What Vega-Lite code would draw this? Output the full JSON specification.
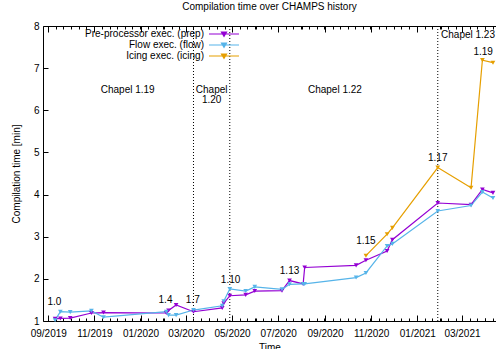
{
  "$schema": "https://vega.github.io/schema/vega-lite/v6.json",
  "width": 453,
  "height": 295,
  "autosize": "none",
  "padding": {"left": 43, "top": 26, "right": 0, "bottom": 28},
  "title": {"text": "Compilation time over CHAMPS history", "fontSize": 10, "fontWeight": "normal", "font": "Liberation Sans", "color": "black", "offset": 9, "anchor": "middle"},
  "config": {
    "font": "Liberation Sans",
    "view": {"stroke": "black", "strokeWidth": 1},
    "axis": {"grid": false, "domain": false, "ticks": true, "tickOpacity": 1, "tickColor": "black", "labelColor": "black", "labelFontSize": 10, "titleFontSize": 10, "titleFontWeight": "normal", "titleColor": "black", "labelFont": "Liberation Sans", "titleFont": "Liberation Sans", "tickWidth": 1}
  },
  "datasets": {
    "times": [
      {"date": "2019-09-10", "series": "Pre-processor exec. (prep)", "minutes": 1.05},
      {"date": "2019-09-17", "series": "Pre-processor exec. (prep)", "minutes": 1.06},
      {"date": "2019-09-30", "series": "Pre-processor exec. (prep)", "minutes": 1.07},
      {"date": "2019-10-28", "series": "Pre-processor exec. (prep)", "minutes": 1.19},
      {"date": "2019-11-13", "series": "Pre-processor exec. (prep)", "minutes": 1.20},
      {"date": "2020-02-04", "series": "Pre-processor exec. (prep)", "minutes": 1.19},
      {"date": "2020-02-07", "series": "Pre-processor exec. (prep)", "minutes": 1.25},
      {"date": "2020-02-17", "series": "Pre-processor exec. (prep)", "minutes": 1.38},
      {"date": "2020-03-11", "series": "Pre-processor exec. (prep)", "minutes": 1.22},
      {"date": "2020-04-18", "series": "Pre-processor exec. (prep)", "minutes": 1.31},
      {"date": "2020-04-20", "series": "Pre-processor exec. (prep)", "minutes": 1.42},
      {"date": "2020-04-28", "series": "Pre-processor exec. (prep)", "minutes": 1.60},
      {"date": "2020-05-19", "series": "Pre-processor exec. (prep)", "minutes": 1.62},
      {"date": "2020-05-31", "series": "Pre-processor exec. (prep)", "minutes": 1.71},
      {"date": "2020-07-06", "series": "Pre-processor exec. (prep)", "minutes": 1.72},
      {"date": "2020-07-16", "series": "Pre-processor exec. (prep)", "minutes": 1.96},
      {"date": "2020-08-03", "series": "Pre-processor exec. (prep)", "minutes": 1.88},
      {"date": "2020-08-05", "series": "Pre-processor exec. (prep)", "minutes": 2.27},
      {"date": "2020-10-12", "series": "Pre-processor exec. (prep)", "minutes": 2.32},
      {"date": "2020-10-25", "series": "Pre-processor exec. (prep)", "minutes": 2.44},
      {"date": "2020-11-22", "series": "Pre-processor exec. (prep)", "minutes": 2.66},
      {"date": "2020-11-29", "series": "Pre-processor exec. (prep)", "minutes": 2.93},
      {"date": "2021-01-28", "series": "Pre-processor exec. (prep)", "minutes": 3.80},
      {"date": "2021-03-13", "series": "Pre-processor exec. (prep)", "minutes": 3.76},
      {"date": "2021-03-28", "series": "Pre-processor exec. (prep)", "minutes": 4.12},
      {"date": "2021-04-11", "series": "Pre-processor exec. (prep)", "minutes": 4.04},
      {"date": "2019-09-10", "series": "Flow exec. (flow)", "minutes": 1.02},
      {"date": "2019-09-17", "series": "Flow exec. (flow)", "minutes": 1.22},
      {"date": "2019-09-30", "series": "Flow exec. (flow)", "minutes": 1.21},
      {"date": "2019-10-28", "series": "Flow exec. (flow)", "minutes": 1.24},
      {"date": "2019-11-13", "series": "Flow exec. (flow)", "minutes": 1.09},
      {"date": "2020-02-04", "series": "Flow exec. (flow)", "minutes": 1.22},
      {"date": "2020-02-07", "series": "Flow exec. (flow)", "minutes": 1.14},
      {"date": "2020-02-17", "series": "Flow exec. (flow)", "minutes": 1.14},
      {"date": "2020-03-11", "series": "Flow exec. (flow)", "minutes": 1.26},
      {"date": "2020-04-18", "series": "Flow exec. (flow)", "minutes": 1.36},
      {"date": "2020-04-20", "series": "Flow exec. (flow)", "minutes": 1.47},
      {"date": "2020-04-28", "series": "Flow exec. (flow)", "minutes": 1.76},
      {"date": "2020-05-19", "series": "Flow exec. (flow)", "minutes": 1.71},
      {"date": "2020-05-31", "series": "Flow exec. (flow)", "minutes": 1.81},
      {"date": "2020-07-06", "series": "Flow exec. (flow)", "minutes": 1.75},
      {"date": "2020-07-16", "series": "Flow exec. (flow)", "minutes": 1.87},
      {"date": "2020-08-03", "series": "Flow exec. (flow)", "minutes": 1.88},
      {"date": "2020-08-05", "series": "Flow exec. (flow)", "minutes": 1.88},
      {"date": "2020-10-12", "series": "Flow exec. (flow)", "minutes": 2.03},
      {"date": "2020-10-25", "series": "Flow exec. (flow)", "minutes": 2.14},
      {"date": "2020-11-22", "series": "Flow exec. (flow)", "minutes": 2.78},
      {"date": "2020-11-29", "series": "Flow exec. (flow)", "minutes": 2.83},
      {"date": "2021-01-28", "series": "Flow exec. (flow)", "minutes": 3.61},
      {"date": "2021-03-13", "series": "Flow exec. (flow)", "minutes": 3.74},
      {"date": "2021-03-28", "series": "Flow exec. (flow)", "minutes": 4.06},
      {"date": "2021-04-11", "series": "Flow exec. (flow)", "minutes": 3.92},
      {"date": "2020-10-25", "series": "Icing exec. (icing)", "minutes": 2.55},
      {"date": "2020-11-22", "series": "Icing exec. (icing)", "minutes": 3.06},
      {"date": "2020-11-29", "series": "Icing exec. (icing)", "minutes": 3.21},
      {"date": "2021-01-28", "series": "Icing exec. (icing)", "minutes": 4.64},
      {"date": "2021-03-13", "series": "Icing exec. (icing)", "minutes": 4.16},
      {"date": "2021-03-28", "series": "Icing exec. (icing)", "minutes": 7.19},
      {"date": "2021-04-11", "series": "Icing exec. (icing)", "minutes": 7.13}
    ],
    "releases": [
      {"date": "2020-03-11"},
      {"date": "2020-04-28"},
      {"date": "2021-01-28"}
    ],
    "versions": [
      {"date": "2019-09-09", "minutes": 1.45, "label": "1.0"},
      {"date": "2020-02-03", "minutes": 1.49, "label": "1.4"},
      {"date": "2020-03-10", "minutes": 1.49, "label": "1.7"},
      {"date": "2020-04-29", "minutes": 1.98, "label": "1.10"},
      {"date": "2020-07-16", "minutes": 2.18, "label": "1.13"},
      {"date": "2020-10-25", "minutes": 2.89, "label": "1.15"},
      {"date": "2021-01-28", "minutes": 4.86, "label": "1.17"},
      {"date": "2021-03-29", "minutes": 7.38, "label": "1.19"}
    ],
    "chapel": [
      {"date": "2019-12-15", "minutes": 6.49, "label": "Chapel 1.19"},
      {"date": "2020-04-04", "minutes": 6.49, "label": "Chapel"},
      {"date": "2020-04-04", "minutes": 6.255, "label": "1.20"},
      {"date": "2020-09-14", "minutes": 6.49, "label": "Chapel 1.22"},
      {"date": "2021-03-09", "minutes": 7.775, "label": "Chapel 1.23"}
    ]
  },
  "resolve": {"axis": {"x": "independent"}},
  "layer": [
    {
      "data": {"name": "releases"},
      "mark": {"type": "rule", "color": "black", "strokeWidth": 1, "strokeDash": [1, 2]},
      "encoding": {
        "x": {"field": "date", "type": "temporal",
          "scale": {"type": "utc", "domain": [{"year": 2019, "month": 8, "date": 25, "utc": true}, {"year": 2021, "month": 4, "date": 15, "utc": true}]},
          "axis": {"orient": "bottom", "tickCount": {"interval": "day", "step": 10}, "tickSize": -3, "labels": false, "title": null}}
      }
    },
    {
      "data": {"name": "times"},
      "mark": {"type": "line", "strokeWidth": 1.2, "point": {"shape": "triangle-down", "filled": true, "size": 22}},
      "encoding": {
        "x": {"field": "date", "type": "temporal",
          "scale": {"type": "utc", "domain": [{"year": 2019, "month": 8, "date": 25, "utc": true}, {"year": 2021, "month": 4, "date": 15, "utc": true}]},
          "axis": {"orient": "bottom", "format": "%m/%Y", "tickCount": {"interval": "month", "step": 2}, "tickSize": -6, "labelPadding": 13.5, "labelFlush": false, "labelOverlap": false, "title": "Time", "titlePadding": 4}},
        "y": {"field": "minutes", "type": "quantitative",
          "scale": {"domain": [1, 8], "nice": false, "zero": false},
          "axis": {"values": [1, 2, 3, 4, 5, 6, 7, 8], "tickSize": -5, "labelPadding": 9, "title": "Compilation time [min]", "titlePadding": 12}},
        "color": {"field": "series", "type": "nominal",
          "scale": {"domain": ["Pre-processor exec. (prep)", "Flow exec. (flow)", "Icing exec. (icing)"], "range": ["#9400d3", "#56b4e9", "#e69f00"]},
          "legend": {"orient": "none", "legendX": 175, "legendY": 2, "title": null, "padding": 0,
            "symbolType": "M-3,0H3M-0.5,-0.4H0.5L0,0.45Z", "symbolSize": 100, "symbolStrokeWidth": 1.2,
            "labelAlign": "right", "labelOffset": -26, "labelFontSize": 10, "labelFont": "Liberation Sans", "labelColor": "black", "rowPadding": -1,
            "encode": {"symbols": {"update": {"fill": {"scale": "color", "field": "value"}}}}}}
      }
    },
    {
      "data": {"name": "versions"},
      "mark": {"type": "text", "fontSize": 10, "font": "Liberation Sans", "color": "black", "align": "center", "baseline": "middle"},
      "encoding": {
        "x": {"field": "date", "type": "temporal",
          "scale": {"type": "utc", "domain": [{"year": 2019, "month": 8, "date": 25, "utc": true}, {"year": 2021, "month": 4, "date": 15, "utc": true}]},
          "axis": {"orient": "top", "tickCount": {"interval": "month", "step": 2}, "tickSize": -6, "labels": false, "title": null}},
        "y": {"field": "minutes", "type": "quantitative",
          "scale": {"domain": [1, 8], "nice": false, "zero": false},
          "axis": {"values": [1, 2, 3, 4, 5, 6, 7, 8], "tickSize": -5, "labelPadding": 9, "title": "Compilation time [min]", "titlePadding": 12}},
        "text": {"field": "label"}
      }
    },
    {
      "data": {"name": "chapel"},
      "mark": {"type": "text", "fontSize": 10, "font": "Liberation Sans", "color": "black", "align": "center", "baseline": "middle"},
      "encoding": {
        "x": {"field": "date", "type": "temporal",
          "scale": {"type": "utc", "domain": [{"year": 2019, "month": 8, "date": 25, "utc": true}, {"year": 2021, "month": 4, "date": 15, "utc": true}]},
          "axis": {"orient": "top", "tickCount": {"interval": "day", "step": 10}, "tickSize": -3, "labels": false, "title": null}},
        "y": {"field": "minutes", "type": "quantitative",
          "scale": {"domain": [1, 8], "nice": false, "zero": false},
          "axis": {"values": [1, 2, 3, 4, 5, 6, 7, 8], "tickSize": -5, "labelPadding": 9, "title": "Compilation time [min]", "titlePadding": 12}},
        "text": {"field": "label"}
      }
    }
  ]
}
